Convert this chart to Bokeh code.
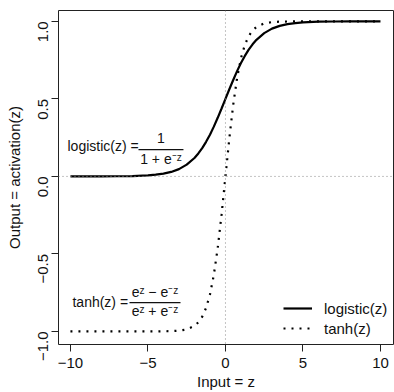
import math
from bokeh.plotting import figure
from bokeh.models import Range1d, FixedTicker, Legend, LegendItem, Span, ColumnDataSource
from bokeh.core.properties import value
from bokeh.embed import file_html
from bokeh.resources import INLINE

# values
z = [-10, -9, -8, -7, -6, -5, -4.5, -4, -3.5, -3, -2.5, -2, -1.75, -1.5, -1.25, -1, -0.75, -0.5, -0.25,
     0, 0.25, 0.5, 0.75, 1, 1.25, 1.5, 1.75, 2, 2.5, 3, 3.5, 4, 4.5, 5, 6, 7, 8, 9, 10]
logistic = [0.0, 0.0, 0.0, 0.001, 0.002, 0.007, 0.011, 0.018, 0.029, 0.047, 0.076, 0.119, 0.148, 0.182,
            0.223, 0.269, 0.321, 0.378, 0.438, 0.5, 0.562, 0.622, 0.679, 0.731, 0.777, 0.818, 0.852,
            0.881, 0.924, 0.953, 0.971, 0.982, 0.989, 0.993, 0.998, 0.999, 1.0, 1.0, 1.0]
tanh = [-1.0, -1.0, -1.0, -1.0, -1.0, -1.0, -1.0, -0.999, -0.998, -0.995, -0.987, -0.964, -0.941, -0.905,
        -0.848, -0.762, -0.635, -0.462, -0.245, 0.0, 0.245, 0.462, 0.635, 0.762, 0.848, 0.905, 0.941,
        0.964, 0.987, 0.995, 0.998, 0.999, 1.0, 1.0, 1.0, 1.0, 1.0, 1.0, 1.0]

x_ticks = [-10.0, -5.0, 0.0, 5.0, 10.0]
x_tick_labels = ["\u221210", "\u22125", "0", "5", "10"]
y_ticks = [-1.0, -0.5, 0.0, 0.5, 1.0]
y_tick_labels = ["\u22121.0", "\u22120.5", "0.0", "0.5", "1.0"]

FONT = "Liberation Sans"

p = figure(width=394, height=392, output_backend="svg", toolbar_location=None, title=None,
           x_range=Range1d(-10.77, 10.84), y_range=Range1d(-1.084, 1.07),
           min_border_left=58, min_border_right=1, min_border_top=10, min_border_bottom=48)
p.background_fill_color = "white"
p.border_fill_color = "white"
p.outline_line_color = "#222222"
p.outline_line_width = 1
p.grid.visible = False

for ax in (p.xaxis, p.yaxis):
    ax.axis_line_color = None
    ax.major_tick_out = 7
    ax.major_tick_in = 0
    ax.minor_tick_line_color = None
    ax.major_tick_line_color = "#222222"
    ax.major_label_text_font = FONT
    ax.major_label_text_font_size = "15px"
    ax.major_label_text_color = "#111111"
    ax.axis_label_text_font = FONT
    ax.axis_label_text_font_size = "15px"
    ax.axis_label_text_font_style = "normal"
    ax.axis_label_text_color = "#111111"

p.xaxis.ticker = FixedTicker(ticks=x_ticks)
p.xaxis.major_label_overrides = dict(zip(x_ticks, x_tick_labels))
p.yaxis.ticker = FixedTicker(ticks=y_ticks)
p.yaxis.major_label_overrides = dict(zip(y_ticks, y_tick_labels))
p.yaxis.major_label_orientation = math.pi / 2
p.xaxis.major_label_standoff = 6
p.yaxis.major_label_standoff = 8
p.xaxis.axis_label = "Input = z"
p.yaxis.axis_label = "Output = activation(z)"
p.xaxis.axis_label_standoff = 2
p.yaxis.axis_label_standoff = 8

p.add_layout(Span(location=0, dimension="width", line_color="#888888", line_width=1, line_dash="1 3"))
p.add_layout(Span(location=0, dimension="height", line_color="#888888", line_width=1, line_dash="1 3"))

src = ColumnDataSource(dict(z=z, logistic=logistic, tanh=tanh))
r1 = p.line("z", "logistic", source=src, line_color="black", line_width=2.2)
r2 = p.line("z", "tanh", source=src, line_color="black", line_width=2.2, line_dash="2 6")

legend = Legend(items=[LegendItem(label="logistic(z)", renderers=[r1]),
                       LegendItem(label="tanh(z)", renderers=[r2])],
                location=(225, 7), padding=0, margin=0, spacing=2,
                glyph_width=29, glyph_height=18, label_height=18, label_standoff=12,
                border_line_color=None, background_fill_alpha=0,
                label_text_font=FONT, label_text_font_size="15px", label_text_color="#111111")
p.add_layout(legend)

# formula annotations
tf = value(FONT)
p.text(x=[-10.19], y=[0.195], text=["logistic(z) ="], text_font=tf, text_font_size="14px",
       text_align="left", text_baseline="middle", text_color="#111111")
p.segment(x0=[-5.61], y0=[0.173], x1=[-2.71], y1=[0.173], line_color="#111111", line_width=1.2)
p.text(x=[-4.16], y=[0.25], text=["1"], text_font=tf, text_font_size="14px",
       text_align="center", text_baseline="middle", text_color="#111111")
p.text(x=[-4.16], y=[0.11], text=["1 + e\u207b\u1dbb"], text_font=tf, text_font_size="14px",
       text_align="center", text_baseline="middle", text_color="#111111")

p.text(x=[-9.87], y=[-0.81], text=["tanh(z) ="], text_font=tf, text_font_size="14px",
       text_align="left", text_baseline="middle", text_color="#111111")
p.segment(x0=[-6.19], y0=[-0.814], x1=[-2.90], y1=[-0.814], line_color="#111111", line_width=1.2)
p.text(x=[-4.55], y=[-0.745], text=["e\u1dbb \u2212 e\u207b\u1dbb"], text_font=tf, text_font_size="14px",
       text_align="center", text_baseline="middle", text_color="#111111")
p.text(x=[-4.55], y=[-0.868], text=["e\u1dbb + e\u207b\u1dbb"], text_font=tf, text_font_size="14px",
       text_align="center", text_baseline="middle", text_color="#111111")

open("out.html", "w").write(file_html(p, INLINE))
